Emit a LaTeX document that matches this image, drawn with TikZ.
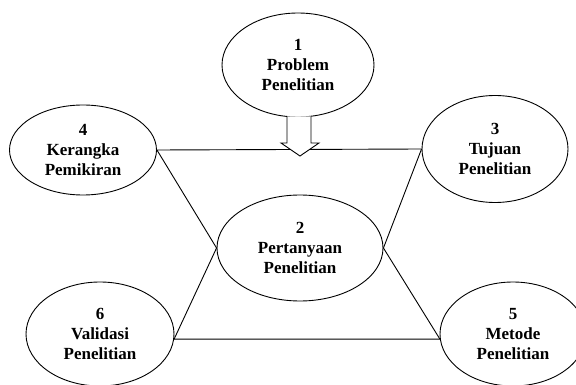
\documentclass[tikz,border=0pt]{standalone}
\usepackage{fontspec}
\setmainfont{Liberation Serif}
\usetikzlibrary{shapes.geometric, positioning}

\begin{document}
\begin{tikzpicture}[x=1pt, y=-1pt,
        blob/.style={ellipse, draw, line width=0.9pt, inner sep=0pt, align=center,
            font=\bfseries\fontsize{17}{20}\selectfont},
        link/.style={line width=0.9pt}]

            % Рамка
            \useasboundingbox (0,0) rectangle (576,385);

            % Эллипсы
            \node[blob, minimum width=152pt, minimum height=104pt] (problem) at (298,65) {1\\Problem\\Penelitian};
            \node[blob, minimum width=166pt, minimum height=106pt] (question) at (300,248) {2\\Pertanyaan\\Penelitian};
            \node[blob, minimum width=146pt, minimum height=107pt] (goal) at (495,149) {3\\Tujuan\\Penelitian};
            \node[blob, minimum width=147pt, minimum height=90pt] (frame) at (83,150) {4\\Kerangka\\Pemikiran};
            \node[blob, minimum width=146pt, minimum height=104pt] (method) at (513,334) {5\\Metode\\Penelitian};
            \node[blob, minimum width=148pt, minimum height=104pt] (valid) at (100,334) {6\\Validasi\\Penelitian};

            % Линии
            \draw[link] (frame.east) -- (goal.west);
            \draw[link] (frame.east) -- (question.west);
            \draw[link] (question.west) -- (valid.-4);
            \draw[link] (goal.west) -- (question.east);
            \draw[link] (question.east) -- (method.184);
            \draw[link] (valid.-4) -- (method.184);

            % Стрелка вниз
            \coordinate (tip) at (300,156);
            \draw[link, fill=white] (287,116.5) -- (287,143) -- (281,143) -- (tip)
                -- (319,143) -- (311,143) -- (311,116.5);

\end{tikzpicture}
\end{document}
